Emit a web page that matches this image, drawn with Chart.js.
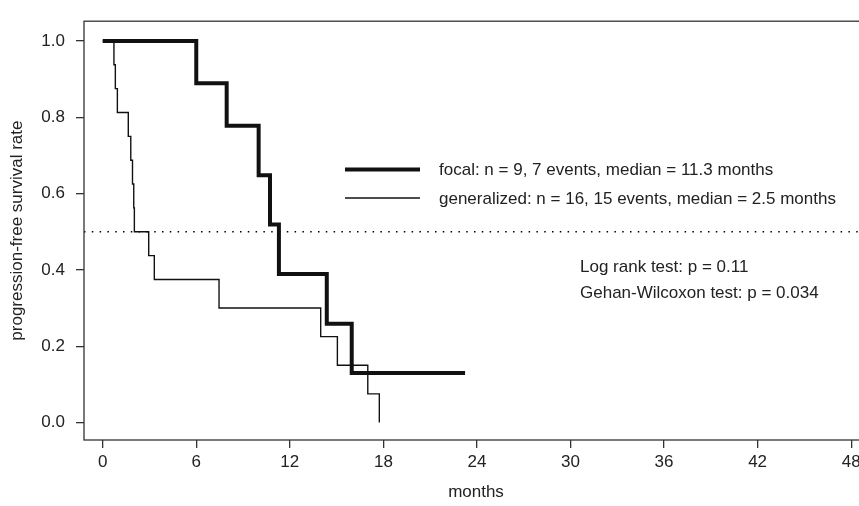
<!DOCTYPE html>
<html>
<head>
<meta charset="utf-8">
<script src="https://cdn.jsdelivr.net/npm/chart.js@4"></script>
<style>
    html, body { margin: 0; padding: 0; background: #fff; overflow: hidden; }
    #wrap { width: 880px; height: 506px; }
</style>
</head>
<body>
<div id="wrap"><canvas id="Chart" width="880" height="506"></canvas></div>
<script>
// Kaplan-Meier steps (months, survival after the step)
const focalTimes = [0, 6.0, 7.95, 10.0, 10.73, 11.3, 14.37, 15.97, 23.24];
const focalSurv = [1, 0.889, 0.778, 0.648, 0.519, 0.389, 0.259, 0.130, 0.130];

const generalizedTimes = [0, 0.72, 0.81, 0.94, 1.64, 1.80, 1.91, 1.99, 2.03, 2.95, 3.31, 7.46, 13.98, 15.05, 17.0, 17.74];
const generalizedSurv = [1, 0.9375, 0.875, 0.8125, 0.75, 0.6875, 0.625, 0.5625, 0.5, 0.4375, 0.375, 0.3, 0.225, 0.15, 0.075, 0];

const xTicks = [0, 6, 12, 18, 24, 30, 36, 42, 48];
const yTicks = [0, 0.2, 0.4, 0.6, 0.8, 1.0];

const legendLabels = [
    "focal: n = 9, 7 events, median = 11.3 months",
    "generalized: n = 16, 15 events, median = 2.5 months"
];
const testLabels = [
    "Log rank test: p = 0.11",
    "Gehan-Wilcoxon test: p = 0.034"
];

const FONT = "'Liberation Sans', Arial, Helvetica, sans-serif";
const INK = '#222';

function toPoints(xs, ys) {
    let pts = [];
    for (let i = 0; i < xs.length; i++) {
        pts.push({x: xs[i], y: ys[i]});
    }
    return pts;
}

// box, median line, legend and test results
const extras = {
    id: 'extras',
    beforeDatasetsDraw(chart) {
        const ctx = chart.ctx;
        const area = chart.chartArea;
        const y05 = chart.scales.y.getPixelForValue(0.5);
        ctx.save();
        ctx.strokeStyle = '#000';
        ctx.lineWidth = 1.5;
        ctx.setLineDash([1.5, 6.3]);
        ctx.beginPath();
        ctx.moveTo(area.left, y05);
        ctx.lineTo(area.right, y05);
        ctx.stroke();
        ctx.restore();
    },
    afterDraw(chart) {
        const ctx = chart.ctx;
        const area = chart.chartArea;
        ctx.save();
        ctx.strokeStyle = '#333';
        ctx.lineWidth = 1.3;
        ctx.strokeRect(area.left, area.top, area.right - area.left, area.bottom - area.top);

        //legend
        const rows = [169.5, 198];
        const widths = [4, 1.4];
        ctx.strokeStyle = '#111';
        for (let i = 0; i < rows.length; i++) {
            ctx.lineWidth = widths[i];
            ctx.beginPath();
            ctx.moveTo(345, rows[i]);
            ctx.lineTo(420, rows[i]);
            ctx.stroke();
        }
        ctx.fillStyle = INK;
        ctx.font = '17px ' + FONT;
        ctx.textBaseline = 'middle';
        ctx.textAlign = 'left';
        for (let i = 0; i < legendLabels.length; i++) {
            ctx.fillText(legendLabels[i], 439, rows[i] + 1);
        }
        ctx.fillText(testLabels[0], 580, 267);
        ctx.fillText(testLabels[1], 580, 293);
        ctx.restore();
    }
};

const data = {
    datasets: [
        {
            label: 'focal',
            data: toPoints(focalTimes, focalSurv),
            borderColor: '#111',
            borderWidth: 4,
            stepped: true,
            pointRadius: 0,
            fill: false
        },
        {
            label: 'generalized',
            data: toPoints(generalizedTimes, generalizedSurv),
            borderColor: '#111',
            borderWidth: 1.4,
            stepped: true,
            pointRadius: 0,
            fill: false
        }
    ]
};

const options = {
    responsive: false,
    animation: false,
    layout: {padding: {top: 9, right: 12, left: 0, bottom: 0}},
    plugins: {
        legend: {display: false},
        tooltip: {enabled: false}
    },
    scales: {
        x: {
            type: 'linear',
            min: -1.2,
            max: 49.08,
            afterBuildTicks: (scale) => { scale.ticks = xTicks.map(v => ({value: v})); },
            afterFit: (scale) => { scale.height = 66; },
            grid: {drawOnChartArea: false, drawTicks: true, tickLength: 8, color: '#333', lineWidth: 1.3},
            border: {display: false},
            ticks: {
                color: INK,
                font: {family: FONT, size: 17},
                padding: 4,
                maxRotation: 0,
                callback: (v) => String(v)
            },
            title: {
                display: true,
                text: 'months',
                color: INK,
                font: {family: FONT, size: 17},
                padding: {top: 0, bottom: 3}
            }
        },
        y: {
            type: 'linear',
            min: -0.0458,
            max: 1.0517,
            afterBuildTicks: (scale) => { scale.ticks = yTicks.map(v => ({value: v})); },
            afterFit: (scale) => { scale.width = 84; },
            grid: {drawOnChartArea: false, drawTicks: true, tickLength: 8, color: '#333', lineWidth: 1.3},
            border: {display: false},
            ticks: {
                color: INK,
                font: {family: FONT, size: 17},
                padding: 11,
                callback: (v) => v.toFixed(1)
            },
            title: {
                display: true,
                text: 'progression-free survival rate',
                color: INK,
                font: {family: FONT, size: 17},
                padding: {top: 7, bottom: 0}
            }
        }
    }
};

let chartElement = document.getElementById('Chart').getContext('2d');
let kmChart = new Chart(chartElement, {
    type: 'line',
    data: data,
    options: options,
    plugins: [extras]
});
</script>
</body>
</html>
